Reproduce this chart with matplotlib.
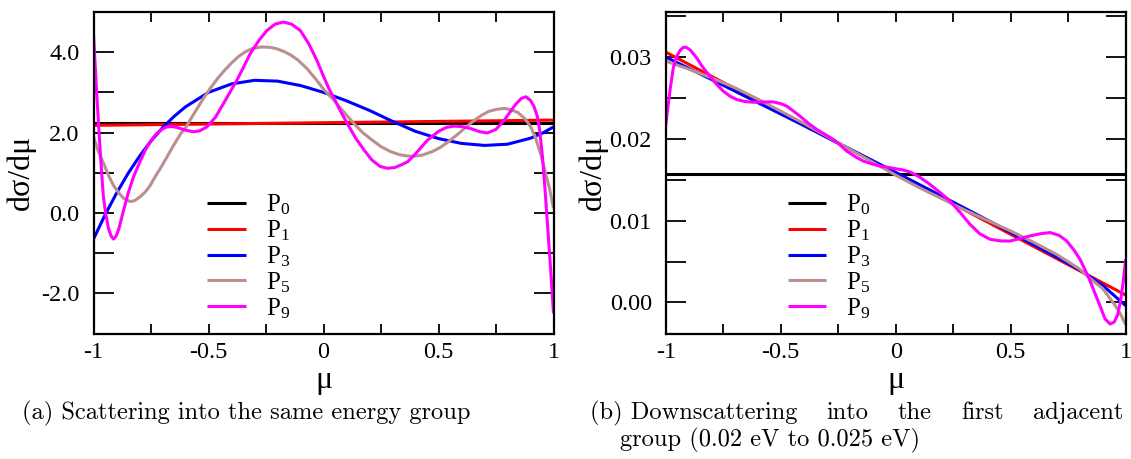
import matplotlib
matplotlib.use('Agg')
import matplotlib.pyplot as plt
from matplotlib.ticker import MultipleLocator, FormatStrFormatter, FuncFormatter

plt.rcParams['font.family'] = ['Liberation Serif', 'DejaVu Serif']
plt.rcParams['mathtext.fontset'] = 'custom'
plt.rcParams['mathtext.rm'] = 'Liberation Serif'
plt.rcParams['mathtext.it'] = 'Liberation Serif:italic'
plt.rcParams['axes.unicode_minus'] = False

# ---------------- data ----------------
labels = ['P$_0$', 'P$_1$', 'P$_3$', 'P$_5$', 'P$_9$']
colors = ['#000000', '#ff0000', '#0000ff', '#bc8f8f', '#ff00ff']

# (a) same energy group
mu_p0_a = [-1.0, 1.0]
p0_a = [2.24, 2.24]
mu_p1_a = [-1.0, 1.0]
p1_a = [2.18, 2.31]
mu_p3_a = [-1.0, -0.95, -0.9, -0.85, -0.8, -0.75, -0.7, -0.65, -0.6, -0.5, -0.4,
           -0.3, -0.2, -0.1, 0.0, 0.1, 0.2, 0.3, 0.4, 0.5, 0.6, 0.7, 0.8,
           0.9, 0.95, 1.0]
p3_a = [-0.65, -0.05, 0.49, 0.98, 1.41, 1.79, 2.12, 2.40, 2.64, 3.00, 3.21,
        3.30, 3.28, 3.17, 3.00, 2.79, 2.55, 2.28, 2.03, 1.85, 1.73, 1.68, 1.71,
        1.86, 1.98, 2.14]
mu_p5_a = [-1.0, -0.98, -0.957, -0.935, -0.914, -0.89, -0.87, -0.84, -0.82,
           -0.798, -0.775, -0.754, -0.73, -0.71, -0.68, -0.65, -0.62, -0.60,
           -0.56, -0.52, -0.49, -0.46, -0.43, -0.40, -0.37, -0.34, -0.31,
           -0.27, -0.23, -0.20, -0.17, -0.145, -0.11, -0.07, -0.035, 0.0,
           0.046, 0.09, 0.133, 0.17, 0.21, 0.25, 0.29, 0.33, 0.36, 0.395,
           0.43, 0.47, 0.505, 0.54, 0.58, 0.62, 0.655, 0.69, 0.72, 0.755,
           0.786, 0.815, 0.845, 0.875, 0.90, 0.92, 0.945, 0.965, 0.983, 1.0]
p5_a = [1.90, 1.55, 1.24, 0.94, 0.69, 0.50, 0.37, 0.28, 0.31,
        0.40, 0.52, 0.68, 0.92, 1.10, 1.40, 1.70, 1.98, 2.12,
        2.50, 2.87, 3.12, 3.35, 3.55, 3.73, 3.89, 4.01, 4.09,
        4.13, 4.12, 4.08, 4.01, 3.94, 3.80, 3.58, 3.34, 3.08,
        2.80, 2.50, 2.22, 2.00, 1.82, 1.65, 1.53, 1.45, 1.42, 1.41,
        1.44, 1.52, 1.62, 1.76, 1.94, 2.14, 2.30, 2.44, 2.53, 2.58,
        2.60, 2.57, 2.50, 2.35, 2.15, 1.90, 1.45, 1.00, 0.60, 0.12]
mu_p9_a = [-1.0, -0.993, -0.986, -0.978, -0.971, -0.964, -0.957, -0.946,
           -0.935, -0.924, -0.913, -0.902, -0.89, -0.87, -0.85, -0.826, -0.80,
           -0.775, -0.75, -0.725, -0.70, -0.681, -0.66, -0.638, -0.60, -0.565,
           -0.54, -0.507, -0.47, -0.435, -0.405, -0.377, -0.35, -0.319, -0.28,
           -0.246, -0.21, -0.174, -0.14, -0.101, -0.065, -0.029, 0.0, 0.023,
           0.046, 0.075, 0.104, 0.14, 0.177, 0.21, 0.245, 0.278, 0.31, 0.34,
           0.365, 0.40, 0.452, 0.50, 0.535, 0.568, 0.60, 0.64, 0.68, 0.713,
           0.75, 0.786, 0.81, 0.835, 0.86, 0.88, 0.90, 0.915, 0.93, 0.94,
           0.952, 0.963, 0.974, 0.987, 1.0]
p9_a = [4.46, 3.70, 2.97, 2.20, 1.56, 0.95, 0.40, -0.05,
        -0.38, -0.57, -0.65, -0.58, -0.40, 0.05, 0.48, 0.90, 1.25,
        1.56, 1.80, 1.98, 2.09, 2.14, 2.15, 2.13, 2.06, 2.02,
        2.04, 2.14, 2.38, 2.72, 3.02, 3.30, 3.60, 3.96, 4.30,
        4.54, 4.70, 4.75, 4.70, 4.54, 4.22, 3.80, 3.40, 3.10,
        2.85, 2.52, 2.22, 1.86, 1.56, 1.32, 1.16, 1.11, 1.13, 1.20,
        1.27, 1.47, 1.81, 2.03, 2.13, 2.16, 2.15, 2.10, 2.02, 1.99,
        2.08, 2.31, 2.50, 2.70, 2.85, 2.89, 2.80, 2.65, 2.40, 2.05,
        1.40, 0.60, -0.30, -1.35, -2.50]

# (b) downscattering into the first adjacent group
mu_p0_b = [-1.0, 1.0]
p0_b = [0.0157, 0.0157]
mu_p1_b = [-1.0, 1.0]
p1_b = [0.0306, 0.0009]
mu_p3_b = [-1.0, -0.9, -0.8, -0.7, -0.6, -0.5, -0.4, -0.3, -0.2, -0.1,
           0.0, 0.1, 0.2, 0.3, 0.4, 0.5, 0.6, 0.7, 0.8, 0.9, 1.0]
p3_b = [0.0300, 0.02862, 0.02724, 0.02584, 0.02443, 0.02303, 0.02162, 0.02019,
        0.01876, 0.01733, 0.0159, 0.01445, 0.01299, 0.01152, 0.01005, 0.00856,
        0.00707, 0.00554, 0.00398, 0.00208, -0.0004]
mu_p5_b = [-1.0, -0.9, -0.8, -0.7, -0.6, -0.5, -0.4, -0.3, -0.2, -0.1,
           0.0, 0.1, 0.2, 0.3, 0.4, 0.5, 0.6, 0.7, 0.8, 0.85, 0.9, 0.95,
           0.975, 1.0]
p5_b = [0.0295, 0.02852, 0.02743, 0.02625, 0.02486, 0.02338, 0.02189, 0.02031,
        0.01872, 0.01714, 0.01555, 0.01407, 0.01268, 0.01130, 0.01001, 0.00873,
        0.00734, 0.00586, 0.00407, 0.00283, 0.00169, -0.0002, -0.0013, -0.0027]
mu_p9_b = [-1.0, -0.99, -0.98, -0.967, -0.953, -0.938, -0.925, -0.912, -0.895,
           -0.88, -0.865, -0.845, -0.826, -0.807, -0.78, -0.749, -0.72, -0.691,
           -0.655, -0.619, -0.575, -0.532, -0.50, -0.474, -0.445, -0.416,
           -0.38, -0.343, -0.305, -0.271, -0.24, -0.213, -0.175, -0.141,
           -0.10, -0.068, -0.03, 0.0, 0.03, 0.062, 0.10, 0.149, 0.19, 0.236,
           0.28, 0.323, 0.365, 0.41, 0.455, 0.497, 0.54, 0.584, 0.63, 0.671,
           0.71, 0.743, 0.775, 0.801, 0.825, 0.845, 0.865, 0.888, 0.91, 0.932,
           0.95, 0.965, 0.978, 0.99, 1.0]
p9_b = [0.02154, 0.0240, 0.0262, 0.02866, 0.0300, 0.0308, 0.03115, 0.0312, 0.0309,
        0.0304, 0.02988, 0.0290, 0.0283, 0.02764, 0.0267, 0.02581, 0.0252, 0.0248,
        0.02455, 0.02447, 0.02450, 0.02451, 0.0243, 0.0240, 0.0234, 0.02276,
        0.0219, 0.02114, 0.0205, 0.01992, 0.0192, 0.0185, 0.0178, 0.01728,
        0.0169, 0.01667, 0.0165, 0.01634, 0.0162, 0.01595, 0.0154, 0.01443, 0.0135, 0.0124,
        0.0110, 0.00955, 0.0084, 0.00772, 0.00752, 0.00750, 0.0078, 0.00813, 0.0084, 0.00854,
        0.0082, 0.00752, 0.0064, 0.00528, 0.0039, 0.00264, 0.0012, -0.0004, -0.0020, -0.00264,
        -0.0024, -0.0015, 0.0002, 0.0027, 0.00528]

series_a = [(mu_p0_a, p0_a), (mu_p1_a, p1_a), (mu_p3_a, p3_a), (mu_p5_a, p5_a), (mu_p9_a, p9_a)]
series_b = [(mu_p0_b, p0_b), (mu_p1_b, p1_b), (mu_p3_b, p3_b), (mu_p5_b, p5_b), (mu_p9_b, p9_b)]

xtick_fmt = FuncFormatter(lambda v, p: '%g' % v)

# ---------------- figure ----------------
W, H = 1131, 459
fig = plt.figure(figsize=(W / 100, H / 100), dpi=100)

def px_axes(x0, y0, x1, y1):
    return fig.add_axes([x0 / W, 1 - y1 / H, (x1 - x0) / W, (y1 - y0) / H])

ax_a = px_axes(93.5, 12, 553.5, 333.5)
ax_b = px_axes(665.7, 12, 1125.7, 333.5)

TICK_FS = 17.5
LAB_FS = 23
LEG_FS = 18

for ax, series, ylim, ymaj, ymin, yfmt, legx in [
        (ax_a, series_a, (-3, 5), 2.0, 1.0, '%.1f', 0.247),
        (ax_b, series_b, (-0.0038, 0.0355), 0.01, 0.005, '%.2f', 0.265)]:
    for (x, y), c, lab in zip(series, colors, labels):
        ax.plot(x, y, color=c, lw=2.2, label=lab, solid_capstyle='butt',
                solid_joinstyle='round')
    ax.set_xlim(-1, 1)
    ax.set_ylim(*ylim)
    ax.xaxis.set_major_locator(MultipleLocator(0.5))
    ax.xaxis.set_minor_locator(MultipleLocator(0.25))
    ax.xaxis.set_major_formatter(xtick_fmt)
    ax.yaxis.set_major_locator(MultipleLocator(ymaj))
    ax.yaxis.set_minor_locator(MultipleLocator(ymin))
    ax.yaxis.set_major_formatter(FormatStrFormatter(yfmt))
    ax.tick_params(axis='both', which='both', direction='in', top=True, right=True,
                   width=1.3, labelsize=TICK_FS)
    ax.tick_params(axis='x', which='both', length=7.5, pad=6)
    ax.tick_params(axis='y', which='both', length=14.5, pad=10)
    for s in ax.spines.values():
        s.set_linewidth(1.6)
    ax.set_xlabel('μ', fontsize=LAB_FS)
    ax.set_ylabel('dσ/dμ', fontsize=LAB_FS)
    ax.yaxis.set_label_coords(-0.125, 0.5)
    ax.xaxis.set_label_coords(0.5, -0.10)
    ax.legend(loc='upper left', bbox_to_anchor=(legx, 0.438), frameon=False,
              fontsize=LEG_FS, handlelength=1.55, handletextpad=0.8,
              labelspacing=0.05, borderpad=0, borderaxespad=0)

# ---------------- captions ----------------
CAP_FS = 17.6
CAP_FAM = ['cmr10', 'DejaVu Serif']
fig.text(22 / W, 1 - 413 / H, '(a) Scattering into the same energy group',
         fontsize=CAP_FS, family=CAP_FAM, ha='left', va='center')

words = ['(b) Downscattering', 'into', 'the', 'first', 'adjacent']
x_start, x_end = 590, 1123
texts = [fig.text(0, 1 - 413 / H, w, fontsize=CAP_FS, family=CAP_FAM,
                  ha='left', va='center') for w in words]
fig.canvas.draw()
renderer = fig.canvas.get_renderer()
widths = [t.get_window_extent(renderer).width for t in texts]
gap = (x_end - x_start - sum(widths)) / (len(words) - 1)
xpos = x_start
for t, w in zip(texts, widths):
    t.set_x(xpos / W)
    xpos += w + gap
fig.text(620 / W, 1 - 440 / H, 'group (0.02 eV to 0.025 eV)',
         fontsize=CAP_FS, family=CAP_FAM, ha='left', va='center')

fig.savefig('out.png', dpi=100)
